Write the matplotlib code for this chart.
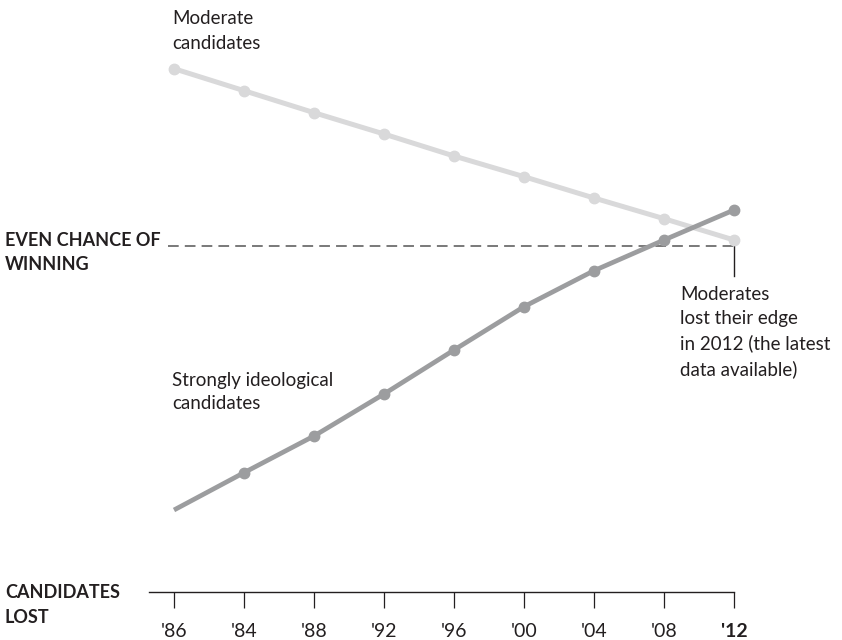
import matplotlib.pyplot as plt
from matplotlib.ticker import FixedLocator

years = ["'86", "'84", "'88", "'92", "'96", "'00", "'04", "'08", "'12"]
moderate = [0.763, 0.730, 0.697, 0.665, 0.632, 0.601, 0.569, 0.538, 0.506]
ideological = [0.101, 0.157, 0.212, 0.275, 0.341, 0.406, 0.460, 0.506, 0.551]
even_chance = 0.497

W, H = 842, 640
dark = "#231f20"
plt.rcParams["font.family"] = ["Lato", "DejaVu Sans"]

fig = plt.figure(figsize=(W / 100, H / 100), dpi=100)
ax = fig.add_axes([0, 0, 1, 1])
x = list(range(len(years)))

# pixel layout: x index 0 at px 174, 70 px per step; y 0.5 at px 244, 0.0015 per px
ax.set_xlim(-174 / 70, (W - 174) / 70)
ax.set_ylim(0.5 - (H - 244) * 0.0015, 0.5 + 244 * 0.0015)

ax.plot(x, moderate, color="#d9d9da", lw=3.6, marker="o", ms=7.5, zorder=3,
        solid_capstyle="butt")
ax.plot(x, ideological, color="#9c9d9f", lw=3.4, marker="o", ms=7.5,
        markevery=list(range(1, len(years))), zorder=4, solid_capstyle="butt")

ax.plot([-0.08, x[-1]], [even_chance, even_chance], color="#555555", lw=1.1,
        dashes=(7, 4), zorder=2)
ax.plot([x[-1], x[-1]], [even_chance, even_chance - 0.045], color=dark, lw=1.0)

for side in ["top", "right", "left"]:
    ax.spines[side].set_visible(False)
ax.spines["bottom"].set_position(("data", 0.5 - (592 - 244) * 0.0015))
ax.spines["bottom"].set_bounds((149 - 174) / 70, x[-1])
ax.spines["bottom"].set_color(dark)
ax.spines["bottom"].set_linewidth(1.0)
ax.xaxis.set_major_locator(FixedLocator(x))
ax.set_xticklabels(years)
ax.tick_params(axis="x", direction="out", length=11.5, width=0.9, color=dark,
               pad=11, labelsize=14, labelcolor=dark)
ax.tick_params(axis="y", left=False, labelleft=False)
ax.get_xticklabels()[-1].set_fontweight("bold")


def px_text(px, py, s, spacing=1.45, size=13.5, **kw):
    fig.text(px / W, 1 - py / H, s, va="center", ha="left", color=dark,
             fontsize=size, linespacing=spacing, **kw)


px_text(172, 31, "Moderate\ncandidates", spacing=1.55)
px_text(172, 392, "Strongly ideological\ncandidates")
px_text(680, 332, "Moderates\nlost their edge\nin 2012 (the latest\ndata available)",
        spacing=1.5)
px_text(5, 253, "EVEN CHANCE OF\nWINNING", size=13, spacing=1.5, fontweight="bold")
px_text(5, 605, "CANDIDATES\nLOST", size=13, spacing=1.6, fontweight="bold")

fig.savefig("out.png", dpi=100)
